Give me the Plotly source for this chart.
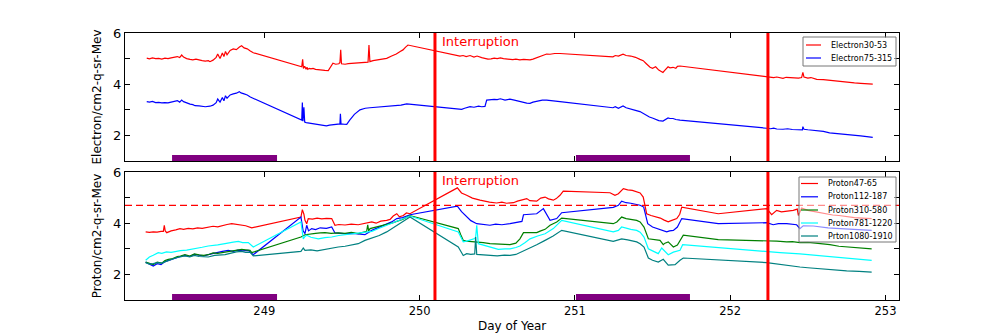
import plotly.graph_objects as go

# ---------------- data (day of year, value) ----------------
electron30_53 = [
    (248.243, 5.02), (248.26, 4.99), (248.28, 5.03), (248.30, 5.00), (248.32, 5.01), (248.34, 4.98),
    (248.36, 5.02), (248.38, 5.00), (248.40, 5.03), (248.42, 5.05), (248.44, 5.08), (248.455, 5.04),
    (248.468, 5.14), (248.48, 5.06), (248.50, 5.00), (248.522, 4.97), (248.54, 4.95), (248.56, 4.98),
    (248.58, 4.94), (248.60, 4.92), (248.62, 4.90), (248.64, 4.92), (248.65, 4.88), (248.67, 4.94),
    (248.69, 5.05), (248.70, 5.18), (248.715, 5.00), (248.73, 5.22), (248.74, 5.08), (248.75, 5.28),
    (248.76, 5.15), (248.78, 5.32), (248.80, 5.38), (248.82, 5.35), (248.84, 5.45), (248.854, 5.50),
    (248.87, 5.42), (248.89, 5.38), (248.91, 5.30), (248.929, 5.23),
    (249.241, 4.68), (249.247, 4.97), (249.252, 4.62), (249.26, 4.70), (249.269, 4.58), (249.275, 4.66),
    (249.28, 4.58), (249.29, 4.62), (249.30, 4.60), (249.314, 4.62), (249.33, 4.58), (249.35, 4.56),
    (249.37, 4.55), (249.39, 4.54), (249.412, 4.53), (249.43, 4.70), (249.442, 4.82), (249.46, 4.78),
    (249.48, 4.80), (249.487, 4.85), (249.492, 5.34), (249.497, 4.80), (249.52, 4.78), (249.54, 4.80),
    (249.571, 4.82), (249.60, 4.84), (249.63, 4.83), (249.66, 4.85), (249.668, 4.86), (249.674, 5.53),
    (249.68, 4.88), (249.70, 4.92), (249.73, 4.96), (249.76, 5.00), (249.788, 5.01), (249.82, 5.10),
    (249.85, 5.18), (249.875, 5.28), (249.893, 5.34), (249.91, 5.45), (249.925, 5.53),
    (250.26, 5.10), (250.28, 5.12), (250.30, 5.08), (250.325, 5.12), (250.35, 5.06), (250.37, 5.10),
    (250.40, 5.04), (250.421, 5.00), (250.44, 4.98), (250.46, 4.99), (250.48, 5.02), (250.50, 5.00),
    (250.52, 5.03), (250.54, 5.00), (250.56, 4.98), (250.582, 4.97), (250.60, 4.96), (250.62, 4.98),
    (250.646, 4.95), (250.67, 4.97), (250.69, 4.96), (250.711, 4.95), (250.73, 4.98), (250.76, 5.05),
    (250.79, 5.12), (250.818, 5.18), (250.84, 5.17), (250.87, 5.20), (250.904, 5.20),
    (251.245, 5.07), (251.26, 5.12), (251.28, 5.10), (251.31, 5.17), (251.33, 5.12), (251.36, 5.10),
    (251.39, 5.05), (251.419, 4.97), (251.44, 4.92), (251.46, 4.80), (251.484, 4.66), (251.50, 4.62),
    (251.52, 4.68), (251.54, 4.55), (251.567, 4.46), (251.58, 4.55), (251.60, 4.68), (251.612, 4.64),
    (251.632, 4.66), (251.65, 4.62), (251.66, 4.70), (251.677, 4.71),
    (252.235, 4.29), (252.26, 4.30), (252.28, 4.26), (252.30, 4.28), (252.32, 4.24), (252.34, 4.23),
    (252.36, 4.27), (252.38, 4.26), (252.40, 4.25), (252.42, 4.26), (252.44, 4.24), (252.46, 4.26),
    (252.468, 4.46), (252.475, 4.28), (252.50, 4.24), (252.52, 4.26), (252.557, 4.19), (252.60, 4.18),
    (252.64, 4.15), (252.68, 4.12), (252.72, 4.10), (252.76, 4.08), (252.80, 4.05), (252.84, 4.03),
    (252.88, 4.02), (252.918, 4.00),
]

electron75_315 = [
    (248.243, 3.32), (248.26, 3.30), (248.28, 3.33), (248.30, 3.28), (248.32, 3.29), (248.34, 3.27),
    (248.36, 3.28), (248.38, 3.27), (248.40, 3.30), (248.42, 3.32), (248.44, 3.36), (248.455, 3.30),
    (248.468, 3.38), (248.48, 3.32), (248.50, 3.26), (248.522, 3.22), (248.54, 3.20), (248.554, 3.16),
    (248.58, 3.15), (248.60, 3.13), (248.62, 3.12), (248.65, 3.14), (248.67, 3.18), (248.69, 3.28),
    (248.70, 3.42), (248.715, 3.30), (248.73, 3.48), (248.74, 3.35), (248.75, 3.55), (248.76, 3.45),
    (248.78, 3.58), (248.80, 3.62), (248.82, 3.65), (248.839, 3.71), (248.85, 3.66), (248.87, 3.62),
    (248.89, 3.58), (248.91, 3.50), (248.929, 3.45),
    (249.241, 2.60), (249.245, 3.28), (249.249, 2.55), (249.255, 3.10), (249.26, 2.52), (249.27, 2.50),
    (249.29, 2.48), (249.31, 2.47), (249.33, 2.45), (249.35, 2.44), (249.37, 2.42), (249.40, 2.37),
    (249.42, 2.40), (249.45, 2.42), (249.487, 2.45), (249.49, 2.84), (249.494, 2.45), (249.51, 2.44),
    (249.531, 2.43), (249.55, 2.60), (249.58, 2.82), (249.616, 3.00), (249.65, 3.06), (249.68, 3.08),
    (249.724, 3.10), (249.76, 3.12), (249.80, 3.14), (249.84, 3.16), (249.88, 3.18), (249.917, 3.23),
    (250.271, 3.02), (250.29, 3.06), (250.31, 3.10), (250.325, 3.12), (250.35, 3.10), (250.38, 3.14),
    (250.40, 3.12), (250.421, 3.13), (250.432, 3.38), (250.45, 3.40), (250.48, 3.41), (250.50, 3.40),
    (250.52, 3.43), (250.55, 3.38), (250.582, 3.42), (250.61, 3.38), (250.646, 3.32), (250.67, 3.28),
    (250.69, 3.26), (250.711, 3.25), (250.73, 3.30), (250.76, 3.34), (250.79, 3.38), (250.818, 3.38),
    (250.84, 3.36), (250.87, 3.34), (250.904, 3.32),
    (251.245, 3.08), (251.26, 3.12), (251.28, 3.06), (251.31, 3.15), (251.33, 3.08), (251.36, 3.04),
    (251.39, 2.98), (251.419, 2.93), (251.45, 2.82), (251.48, 2.72), (251.503, 2.67), (251.52, 2.62),
    (251.54, 2.58), (251.567, 2.56), (251.58, 2.62), (251.60, 2.68), (251.612, 2.66), (251.632, 2.66),
    (251.65, 2.62), (251.677, 2.60),
    (252.235, 2.28), (252.26, 2.26), (252.28, 2.28), (252.30, 2.25), (252.34, 2.24), (252.37, 2.26),
    (252.40, 2.23), (252.44, 2.24), (252.465, 2.22), (252.468, 2.34), (252.475, 2.24), (252.50, 2.22),
    (252.53, 2.20), (252.557, 2.17), (252.60, 2.16), (252.64, 2.10), (252.68, 2.08), (252.72, 2.05),
    (252.76, 2.04), (252.80, 2.00), (252.84, 1.98), (252.88, 1.95), (252.918, 1.92),
]

proton47_65 = [
    (248.236, 3.66), (248.26, 3.64), (248.285, 3.66), (248.31, 3.65), (248.335, 3.68), (248.35, 3.68),
    (248.356, 3.92), (248.362, 3.70), (248.372, 3.63), (248.40, 3.70), (248.43, 3.74), (248.457, 3.79),
    (248.48, 3.76), (248.51, 3.80), (248.54, 3.78), (248.57, 3.82), (248.60, 3.80), (248.639, 3.85),
    (248.67, 3.88), (248.70, 3.86), (248.73, 3.92), (248.76, 3.95), (248.79, 3.98), (248.82, 3.95),
    (248.854, 3.94), (248.88, 3.90), (248.919, 3.82),
    (249.236, 4.24), (249.245, 4.53), (249.255, 4.35), (249.262, 4.11), (249.273, 3.98), (249.283, 4.18),
    (249.31, 4.16), (249.34, 4.20), (249.37, 4.17), (249.40, 4.19), (249.434, 4.18), (249.455, 3.92),
    (249.48, 3.95), (249.52, 3.93), (249.56, 3.96), (249.605, 3.94), (249.65, 4.00), (249.692, 4.05),
    (249.72, 4.00), (249.75, 4.08), (249.788, 4.11), (249.81, 4.15), (249.83, 4.28), (249.853, 4.37),
    (249.87, 4.25), (249.895, 4.30), (249.915, 4.40), (249.938, 4.37),
    (250.243, 5.38), (250.27, 5.18), (250.303, 5.09), (250.34, 4.98), (250.389, 4.90), (250.42, 4.85),
    (250.45, 4.82), (250.496, 4.79), (250.53, 4.82), (250.56, 4.78), (250.604, 4.80), (250.63, 4.86),
    (250.66, 4.90), (250.69, 4.96), (250.71, 4.88), (250.754, 4.86), (250.78, 4.98), (250.808, 5.02),
    (250.83, 4.95), (250.861, 4.90), (250.88, 4.96), (250.904, 5.09), (250.925, 5.25),
    (251.226, 5.19), (251.258, 5.09), (251.28, 5.15), (251.312, 5.35), (251.34, 5.30), (251.37, 5.28),
    (251.398, 5.22), (251.42, 5.18), (251.44, 5.02), (251.455, 4.60), (251.462, 4.37), (251.49, 4.30),
    (251.527, 4.24), (251.55, 4.20), (251.575, 4.12), (251.601, 4.05), (251.62, 4.10), (251.656, 4.18),
    (251.675, 4.35), (251.688, 4.63), (251.923, 4.37),
    (252.235, 4.57), (252.267, 4.33), (252.299, 4.50), (252.33, 4.44), (252.364, 4.46), (252.39, 4.48),
    (252.406, 4.50), (252.432, 4.55), (252.439, 4.30), (252.46, 4.59), (252.50, 4.50), (252.535, 4.46),
    (252.58, 4.40), (252.62, 4.35), (252.66, 4.32), (252.70, 4.30), (252.75, 4.25), (252.80, 4.22),
    (252.85, 4.20), (252.911, 4.18),
]

proton112_187 = [
    (248.236, 2.48), (248.26, 2.40), (248.285, 2.33), (248.31, 2.42), (248.335, 2.38), (248.36, 2.50),
    (248.382, 2.55), (248.41, 2.60), (248.44, 2.66), (248.46, 2.70), (248.489, 2.74), (248.52, 2.70),
    (248.55, 2.78), (248.58, 2.74), (248.61, 2.72), (248.639, 2.77), (248.67, 2.82), (248.70, 2.86),
    (248.73, 2.90), (248.768, 2.94), (248.80, 2.90), (248.83, 2.95), (248.86, 2.92), (248.897, 2.94),
    (248.929, 2.77),
    (249.236, 4.24), (249.25, 3.70), (249.262, 3.59), (249.273, 3.92), (249.285, 3.70), (249.305, 3.79),
    (249.33, 3.75), (249.36, 3.82), (249.40, 3.80), (249.434, 3.85), (249.455, 3.62), (249.49, 3.60),
    (249.53, 3.58), (249.57, 3.60), (249.605, 3.59), (249.648, 3.55), (249.692, 3.72), (249.74, 3.85),
    (249.788, 3.98), (249.82, 4.05), (249.853, 4.18), (249.89, 4.22), (249.938, 4.33),
    (250.243, 4.67), (250.27, 4.45), (250.303, 4.24), (250.33, 4.10), (250.368, 3.98), (250.41, 3.95),
    (250.453, 3.92), (250.49, 3.96), (250.53, 3.94), (250.582, 3.98), (250.62, 4.02), (250.659, 4.07),
    (250.669, 4.33), (250.70, 4.35), (250.754, 4.37), (250.797, 4.57), (250.82, 4.30), (250.84, 4.11),
    (250.883, 4.18), (250.915, 4.41),
    (251.247, 4.62), (251.28, 4.70), (251.301, 4.86), (251.33, 4.80), (251.36, 4.78), (251.398, 4.74),
    (251.42, 4.70), (251.443, 4.63), (251.469, 3.98), (251.50, 3.85), (251.527, 3.79), (251.56, 3.72),
    (251.591, 3.66), (251.61, 3.70), (251.634, 3.72), (251.66, 3.85), (251.688, 4.18), (251.923, 3.98),
    (252.235, 4.02), (252.277, 3.94), (252.31, 3.98), (252.364, 3.98), (252.40, 3.96), (252.428, 3.94),
    (252.449, 3.79), (252.47, 3.90), (252.535, 3.89), (252.58, 3.85), (252.63, 3.82), (252.68, 3.80),
    (252.74, 3.78), (252.80, 3.76), (252.86, 3.74), (252.911, 3.72),
]

proton310_580 = [
    (248.236, 2.48), (248.26, 2.42), (248.285, 2.38), (248.31, 2.48), (248.34, 2.44), (248.36, 2.54),
    (248.382, 2.59), (248.41, 2.62), (248.44, 2.70), (248.46, 2.72), (248.489, 2.77), (248.52, 2.72),
    (248.55, 2.80), (248.58, 2.76), (248.61, 2.74), (248.639, 2.77), (248.67, 2.84), (248.70, 2.82),
    (248.747, 2.87), (248.78, 2.92), (248.82, 2.95), (248.854, 2.98), (248.88, 2.96), (248.908, 2.94),
    (248.919, 2.85),
    (249.236, 3.46), (249.262, 3.55), (249.29, 3.58), (249.33, 3.60), (249.36, 3.62), (249.391, 3.63),
    (249.43, 3.60), (249.476, 3.62), (249.52, 3.60), (249.56, 3.64), (249.605, 3.59), (249.659, 3.68),
    (249.666, 3.94), (249.672, 3.70), (249.681, 3.79), (249.73, 3.86), (249.788, 3.94), (249.82, 4.00),
    (249.853, 4.07), (249.89, 4.15), (249.938, 4.30),
    (250.249, 3.79), (250.265, 3.55), (250.281, 3.33), (250.30, 3.30), (250.325, 3.29), (250.368, 3.27),
    (250.41, 3.24), (250.453, 3.20), (250.50, 3.18), (250.54, 3.17), (250.582, 3.16), (250.62, 3.22),
    (250.646, 3.39), (250.669, 3.63), (250.70, 3.64), (250.754, 3.63), (250.78, 3.70), (250.808, 3.76),
    (250.84, 3.92), (250.883, 4.05), (250.915, 4.20),
    (251.247, 3.98), (251.27, 4.05), (251.301, 4.24), (251.33, 4.18), (251.36, 4.15), (251.398, 4.11),
    (251.42, 4.05), (251.445, 3.85), (251.473, 3.39), (251.50, 3.36), (251.548, 3.33), (251.569, 3.16),
    (251.58, 3.22), (251.601, 3.27), (251.62, 3.15), (251.634, 3.07), (251.66, 3.15), (251.677, 3.33),
    (251.698, 3.53), (251.923, 3.36),
    (252.235, 3.33), (252.30, 3.30), (252.364, 3.27), (252.40, 3.28), (252.449, 3.24), (252.50, 3.25),
    (252.55, 3.22), (252.60, 3.20), (252.642, 3.16), (252.70, 3.10), (252.771, 3.07), (252.83, 3.04),
    (252.911, 3.00),
]

proton781_1220 = [
    (248.236, 2.55), (248.26, 2.68), (248.285, 2.75), (248.317, 2.85), (248.34, 2.82), (248.37, 2.88),
    (248.40, 2.86), (248.425, 2.90), (248.46, 2.93), (248.50, 2.95), (248.533, 2.98), (248.57, 3.02),
    (248.60, 3.06), (248.639, 3.11), (248.67, 3.12), (248.70, 3.15), (248.747, 3.20), (248.78, 3.22),
    (248.80, 3.26), (248.833, 3.29), (248.86, 3.24), (248.897, 3.24), (248.929, 3.07),
    (249.236, 4.05), (249.251, 3.39), (249.262, 3.48), (249.273, 3.53), (249.30, 3.45), (249.348, 3.39),
    (249.39, 3.44), (249.434, 3.46), (249.48, 3.52), (249.52, 3.55), (249.563, 3.59), (249.60, 3.62),
    (249.648, 3.66), (249.692, 3.68), (249.74, 3.80), (249.788, 3.92), (249.84, 4.05), (249.89, 4.18),
    (249.938, 4.28),
    (250.249, 3.66), (250.265, 3.45), (250.281, 3.27), (250.303, 3.30), (250.325, 3.33), (250.355, 3.40),
    (250.361, 3.46), (250.368, 3.92), (250.378, 3.20), (250.41, 3.15), (250.453, 3.07), (250.507, 2.98),
    (250.55, 3.00), (250.582, 3.00), (250.62, 3.05), (250.646, 3.11), (250.68, 3.25), (250.711, 3.39),
    (250.76, 3.50), (250.808, 3.59), (250.861, 3.79), (250.915, 4.11),
    (251.247, 3.66), (251.28, 3.72), (251.301, 3.85), (251.33, 3.80), (251.36, 3.76), (251.398, 3.72),
    (251.42, 3.65), (251.445, 3.46), (251.473, 3.00), (251.50, 2.92), (251.537, 2.81), (251.559, 3.03),
    (251.58, 2.90), (251.601, 2.77), (251.634, 2.87), (251.66, 2.90), (251.677, 2.94), (251.694, 3.16),
    (252.235, 2.87), (252.321, 2.85), (252.449, 2.80), (252.60, 2.72), (252.75, 2.63), (252.911, 2.55),
]

proton1080_1910 = [
    (248.236, 2.46), (248.26, 2.40), (248.285, 2.42), (248.31, 2.46), (248.34, 2.44), (248.382, 2.55),
    (248.41, 2.60), (248.44, 2.66), (248.489, 2.72), (248.52, 2.68), (248.55, 2.74), (248.58, 2.70),
    (248.639, 2.68), (248.68, 2.74), (248.747, 2.77), (248.78, 2.82), (248.82, 2.88), (248.854, 2.90),
    (248.88, 2.86), (248.908, 2.87), (248.929, 2.72),
    (249.236, 2.90), (249.251, 3.03), (249.262, 2.94), (249.30, 2.96), (249.34, 2.92), (249.391, 2.98),
    (249.43, 3.00), (249.476, 3.07), (249.52, 3.10), (249.56, 3.14), (249.605, 3.20), (249.648, 3.33),
    (249.692, 3.42), (249.74, 3.52), (249.788, 3.66), (249.84, 3.85), (249.89, 4.05), (249.938, 4.24),
    (250.249, 3.07), (250.265, 2.90), (250.281, 2.74), (250.303, 2.81), (250.33, 2.78), (250.355, 2.80),
    (250.361, 3.46), (250.368, 2.78), (250.41, 2.76), (250.453, 2.74), (250.50, 2.72), (250.546, 2.75),
    (250.582, 2.74), (250.62, 2.78), (250.646, 2.85), (250.70, 3.00), (250.754, 3.16), (250.808, 3.33),
    (250.86, 3.50), (250.915, 3.72),
    (251.247, 3.29), (251.28, 3.35), (251.301, 3.39), (251.34, 3.35), (251.37, 3.30), (251.398, 3.27),
    (251.42, 3.20), (251.445, 3.07), (251.473, 2.64), (251.50, 2.55), (251.537, 2.48), (251.569, 2.59),
    (251.601, 2.36), (251.645, 2.38), (251.677, 2.55), (251.698, 2.64),
    (252.235, 2.46), (252.321, 2.38), (252.449, 2.29), (252.50, 2.26), (252.58, 2.22), (252.65, 2.18),
    (252.75, 2.14), (252.83, 2.12), (252.911, 2.09),
]

interruption_days = [250.099, 252.243]
purple_intervals = [(248.406, 249.082), (251.007, 251.741)]
threshold_level = 4.7
x_ticks = [249, 250, 251, 252, 253]
y_ticks = [2, 4, 6]

electron_series = [("Electron30-53", electron30_53, "#ff0000"),
                   ("Electron75-315", electron75_315, "#0000ff")]
proton_series = [("Proton47-65", proton47_65, "#ff0000"),
                 ("Proton112-187", proton112_187, "#0000ff"),
                 ("Proton310-580", proton310_580, "#008000"),
                 ("Proton781-1220", proton781_1220, "#00ffff"),
                 ("Prton1080-1910", proton1080_1910, "#008080")]

FONT = "DejaVu Sans"
W, H = 1000, 333
ML, MR, MT, MB = 125, 101, 33, 33
PW, PH = W - ML - MR, H - MT - MB


def px_x(px):
    return (px - ML) / PW


def px_y(py):
    return (H - MB - py) / PH


fig = go.Figure()

for name, data, color in electron_series:
    fig.add_trace(go.Scatter(x=[d for d, _ in data], y=[v for _, v in data], mode="lines",
                             name=name, line=dict(color=color, width=1.2),
                             xaxis="x", yaxis="y", showlegend=False))
for name, data, color in proton_series:
    fig.add_trace(go.Scatter(x=[d for d, _ in data], y=[v for _, v in data], mode="lines",
                             name=name, line=dict(color=color, width=1.2),
                             xaxis="x2", yaxis="y2", showlegend=False))

# threshold dashed line (bottom panel)
fig.add_trace(go.Scatter(x=[248.103, 253.087], y=[threshold_level, threshold_level], mode="lines",
                         line=dict(color="#ff0000", width=1.3, dash="7px,4px"),
                         showlegend=False, xaxis="x2", yaxis="y2", hoverinfo="skip"))

shapes = []
annotations = []
for xr, yr in (("x", "y"), ("x2", "y2")):
    for a, b in purple_intervals:
        shapes.append(dict(type="rect", xref=xr, yref=yr, x0=a, x1=b, y0=1.0, y1=1.23,
                           fillcolor="#800080", line=dict(width=0), layer="above"))
    for d in interruption_days:
        shapes.append(dict(type="line", xref=xr, yref=yr, x0=d, x1=d, y0=1, y1=6,
                           line=dict(color="#ff0000", width=3), layer="above"))
    annotations.append(dict(x=interruption_days[0] + 0.035, y=6.0, xref=xr, yref=yr, yshift=1,
                            text="Interruption", showarrow=False, xanchor="left", yanchor="top",
                            font=dict(family=FONT, size=13, color="#ff0000")))


# legends (matplotlib-style compact boxes)
def add_legend(series, box, rows, line_x, text_x):
    x0, y0, x1, y1 = box
    shapes.append(dict(type="rect", xref="paper", yref="paper", x0=px_x(x0), x1=px_x(x1),
                       y0=px_y(y1), y1=px_y(y0), fillcolor="rgba(255,255,255,0.55)",
                       line=dict(color="#777777", width=1), layer="above"))
    for (name, _, color), ry in zip(series, rows):
        shapes.append(dict(type="line", xref="paper", yref="paper", x0=px_x(line_x[0]),
                           x1=px_x(line_x[1]), y0=px_y(ry), y1=px_y(ry),
                           line=dict(color=color, width=1.2), layer="above"))
        annotations.append(dict(x=px_x(text_x), y=px_y(ry), xref="paper", yref="paper", text=name,
                                showarrow=False, xanchor="left", yanchor="middle",
                                font=dict(family=FONT, size=8, color="black")))


add_legend(electron_series, (803, 37, 896, 66), [45, 58], (806, 821), 829)
add_legend(proton_series, (799, 177, 896, 242), [183.5, 196.8, 210, 223, 236], (801, 818), 826)

annotations.append(dict(x=0.5, y=px_y(325.5), xref="paper", yref="paper", text="Day of Year",
                        showarrow=False, xanchor="center", yanchor="middle",
                        font=dict(family=FONT, size=12, color="black")))

xcommon = dict(range=[248.103, 253.087], tickvals=x_ticks, ticks="inside", ticklen=5,
               tickcolor="black", showline=True, linecolor="black", linewidth=1, mirror="ticks",
               showgrid=False, zeroline=False, automargin=False,
               tickfont=dict(family=FONT, size=11.5, color="black"))
ycommon = dict(range=[1, 6], tickvals=y_ticks, ticks="inside", ticklen=5, tickcolor="black",
               showline=True, linecolor="black", linewidth=1, mirror="ticks", showgrid=False,
               zeroline=False, automargin=False,
               tickfont=dict(family=FONT, size=13, color="black"),
               minor=dict(tickvals=[3, 5], ticks="inside", ticklen=5, tickcolor="black", showgrid=False))

fig.update_layout(
    width=W, height=H, margin=dict(l=ML, r=MR, t=MT, b=MB),
    paper_bgcolor="white", plot_bgcolor="white",
    font=dict(family=FONT, color="black"), showlegend=False,
    xaxis=dict(xcommon, domain=[0, 1], anchor="y", showticklabels=False),
    yaxis=dict(ycommon, domain=[px_y(161), 1.0], anchor="x",
               title=dict(text="Electron/cm2-q-sr-Mev", font=dict(family=FONT, size=12), standoff=8)),
    xaxis2=dict(xcommon, domain=[0, 1], anchor="y2"),
    yaxis2=dict(ycommon, domain=[0.0, px_y(172)], anchor="x2",
                title=dict(text="Proton/cm2-q-sr-Mev", font=dict(family=FONT, size=12), standoff=8)),
    shapes=shapes, annotations=annotations,
)

fig.write_html("out.html")
